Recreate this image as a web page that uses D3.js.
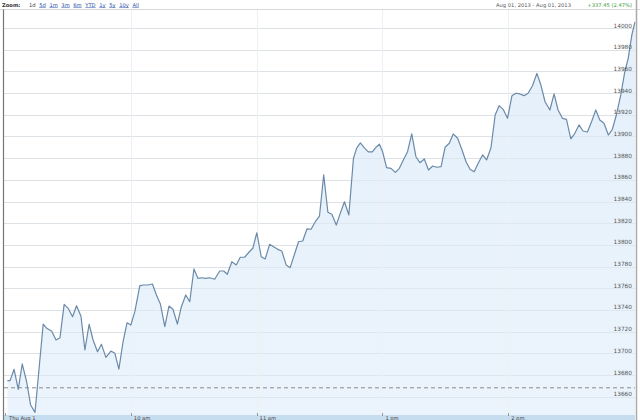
<!DOCTYPE html>
<html><head><meta charset="utf-8">
<script src="https://cdn.jsdelivr.net/npm/d3@7"></script>
<style>
html,body{margin:0;padding:0;background:#fff;}
svg{display:block;font-family:"DejaVu Sans",Verdana,sans-serif;}
</style></head>
<body><svg id="c" width="640" height="420"></svg>
<script>
// minutes since midnight
const times = [541.1,542.4,544.3,546.3,548.2,550.3,552.2,554.3,558.2,559.9,562.2,564.3,566.2,568.2,570.1,572.2,574.1,576.2,578.1,580.1,582.0,584.1,586.0,588.1,590.5,592.4,594.3,596.3,598.2,600.0,601.9,604.3,606.2,608.2,610.3,612.2,614.1,616.2,618.2,620.1,622.2,624.1,626.2,628.1,630.1,632.0,633.8,635.7,637.6,640.0,642.4,644.3,646.0,648.2,650.3,652.2,654.3,656.3,658.2,660.1,662.2,664.1,666.2,668.1,670.1,672.0,674.1,676.0,678.1,680.0,682.0,684.0,686.0,688.0,690.0,692.0,694.0,695.9,698.0,699.9,701.9,704.0,706.2,707.8,709.5,711.4,713.3,715.2,717.1,718.6,720.1,722.0,724.1,726.2,728.1,730.0,732.0,734.0,736.0,737.9,740.0,742.0,744.0,745.9,748.0,749.9,751.9,753.8,755.9,758.0,759.9,761.8,763.8,765.7,767.8,769.7,771.8,773.8,775.7,777.6,779.7,781.8,783.7,785.6,787.6,789.5,791.6,793.7,795.6,797.6,799.9,801.9,803.8,805.9,807.8,809.9,811.8,813.8,815.7,817.8,819.9,821.8,823.7,825.7,827.8,829.7,831.6,833.7,835.6,837.3,839.0,840.5];
const values = [13674.8,13674.8,13685.3,13666.8,13690.2,13673.8,13652.3,13645.6,13727.0,13723.1,13720.6,13712.3,13714.4,13745.2,13741.5,13733.8,13743.9,13734.4,13703.1,13726.8,13712.3,13701.5,13708.3,13696.3,13702.1,13700.0,13685.5,13710.7,13728.2,13726.1,13738.4,13762.4,13763.0,13763.0,13763.9,13753.8,13745.5,13724.6,13743.6,13740.6,13727.0,13743.0,13753.8,13747.6,13777.8,13769.2,13769.7,13769.2,13769.7,13768.3,13775.9,13775.9,13772.9,13784.5,13781.5,13788.6,13788.6,13793.2,13796.9,13811.2,13789.1,13787.0,13800.5,13798.3,13795.9,13794.4,13781.5,13779.0,13791.6,13802.9,13803.6,13814.7,13814.4,13821.4,13826.6,13864.5,13830.1,13828.2,13818.3,13829.1,13839.8,13827.6,13879.9,13889.4,13894.0,13889.4,13885.7,13885.7,13890.3,13892.8,13885.9,13871.2,13870.6,13866.9,13870.6,13878.3,13885.9,13902.3,13881.3,13875.8,13879.2,13869.1,13872.7,13871.6,13872.1,13890.0,13893.7,13902.3,13898.3,13887.5,13876.7,13869.7,13867.5,13875.2,13882.9,13878.3,13889.6,13919.8,13928.4,13925.0,13916.7,13937.6,13939.8,13939.2,13937.6,13939.8,13946.8,13958.2,13947.4,13932.0,13924.4,13939.2,13924.4,13916.7,13915.8,13897.7,13902.9,13910.6,13905.0,13904.1,13914.3,13924.4,13915.2,13912.1,13901.3,13906.6,13919.8,13938.2,13959.4,13972.4,13993.6,14005.6];
const prevClose = 13668.2;
const yTicks = [13660,13680,13700,13720,13740,13760,13780,13800,13820,13840,13860,13880,13900,13920,13940,13960,13980,14000];
const xTickTimes = [540,600,660,720,780];
const xTickLabels = ["Thu Aug 1","10 am","11 am","1 pm","2 pm"];
const zoomLinks = ["1d","5d","1m","3m","6m","YTD","1y","5y","10y","All"];
const rangeText = "Aug 01, 2013 - Aug 01, 2013";
const changeText = "+337.45 (2.47%)";

const data = times.map((t,i)=>({t, v: values[i]}));
const svg = d3.select("#c");
const L = 4, R = 635, T = 10, B = 415;
const x = d3.scaleLinear().domain([539.5, 840.5]).range([L, R]);
const y = d3.scaleLinear().domain([13660, 14000]).range([396.7, 28]);

// header
const hdr = svg.append("g").attr("font-size", 5.2);
hdr.append("text").attr("x", 2).attr("y", 6.5).attr("font-weight", "bold").attr("fill", "#333").text("Zoom:");
let cx = 29;
zoomLinks.forEach((s,i)=>{
  const t = hdr.append("text").attr("x", cx).attr("y", 6.5)
    .attr("fill", i===0 ? "#333" : "#2a4fa8")
    .attr("text-decoration", i===0 ? null : "underline").text(s);
  cx += t.node().getComputedTextLength() + 3.6;
});
hdr.append("text").attr("x", 496).attr("y", 6.5).attr("fill", "#555").text(rangeText);
hdr.append("text").attr("x", 632).attr("y", 6.5).attr("text-anchor","end").attr("fill", "#3a9a3a").text(changeText);
svg.append("line").attr("x1",0).attr("x2",640).attr("y1",9.5).attr("y2",9.5).attr("stroke","#d8d8d8");

// grid
svg.append("g").selectAll("line").data(yTicks).join("line")
  .attr("x1", L).attr("x2", R).attr("y1", d=>Math.round(y(d))+0.5).attr("y2", d=>Math.round(y(d))+0.5)
  .attr("stroke", "#e2e2e2");

// area
const defs = svg.append("defs");
const g = defs.append("linearGradient").attr("id","fillg").attr("x1",0).attr("x2",0).attr("y1",0).attr("y2",1);
g.append("stop").attr("offset","0%").attr("stop-color","#e2eefa");
g.append("stop").attr("offset","100%").attr("stop-color","#e9f3fc");
svg.append("path").datum(data)
  .attr("d", d3.area().x(d=>x(d.t)).y0(B).y1(d=>y(d.v)))
  .attr("fill", "url(#fillg)").attr("opacity", 0.9);

// grid over fill (faint)
svg.append("g").selectAll("line").data(yTicks).join("line")
  .attr("x1", L).attr("x2", R).attr("y1", d=>Math.round(y(d))+0.5).attr("y2", d=>Math.round(y(d))+0.5)
  .attr("stroke", "#d9e2ea").attr("opacity",0.6);
svg.append("g").selectAll("line").data(xTickTimes.slice(1)).join("line")
  .attr("x1", d=>Math.round(x(d))+0.5).attr("x2", d=>Math.round(x(d))+0.5).attr("y1", T).attr("y2", B)
  .attr("stroke", "#eef0f2");

// prev close dashed
svg.append("line").attr("x1", L).attr("x2", R)
  .attr("y1", y(prevClose)).attr("y2", y(prevClose))
  .attr("stroke", "#8a8a8a").attr("stroke-width", 1).attr("stroke-dasharray", "4,3");

// line
svg.append("path").datum(data)
  .attr("d", d3.line().x(d=>x(d.t)).y(d=>y(d.v)))
  .attr("fill", "none").attr("stroke", "#6b8aa8").attr("stroke-width", 1.2).attr("stroke-linejoin","round");

// y labels
svg.append("g").selectAll("text").data(yTicks).join("text")
  .attr("x", 632).attr("y", d=>y(d)-0.5).attr("text-anchor","end")
  .attr("font-size", 5.8).attr("fill", "#555").text(d=>d);

// x axis band
svg.append("rect").attr("x", L).attr("y", B).attr("width", R-L).attr("height", 420-B).attr("fill", "#c6dcef");
svg.append("g").selectAll("line").data(xTickTimes).join("line")
  .attr("x1", d=>Math.round(x(d))+0.5).attr("x2", d=>Math.round(x(d))+0.5).attr("y1", B-2).attr("y2", B+1)
  .attr("stroke", "#999");
svg.append("g").selectAll("text").data(xTickTimes).join("text")
  .attr("x", (d,i)=>x(d)+ (i===0?4:3)).attr("y", 419.6)
  .attr("font-size", 5.2).attr("fill", "#444").text((d,i)=>xTickLabels[i]);

// frame
svg.append("line").attr("x1", 3.5).attr("x2", 3.5).attr("y1", 9.5).attr("y2", 420).attr("stroke", "#777").attr("stroke-width", 1.2);
svg.append("line").attr("x1", 636.5).attr("x2", 636.5).attr("y1", 0).attr("y2", 420).attr("stroke", "#aaa").attr("stroke-width", 1.5);
</script></body></html>
